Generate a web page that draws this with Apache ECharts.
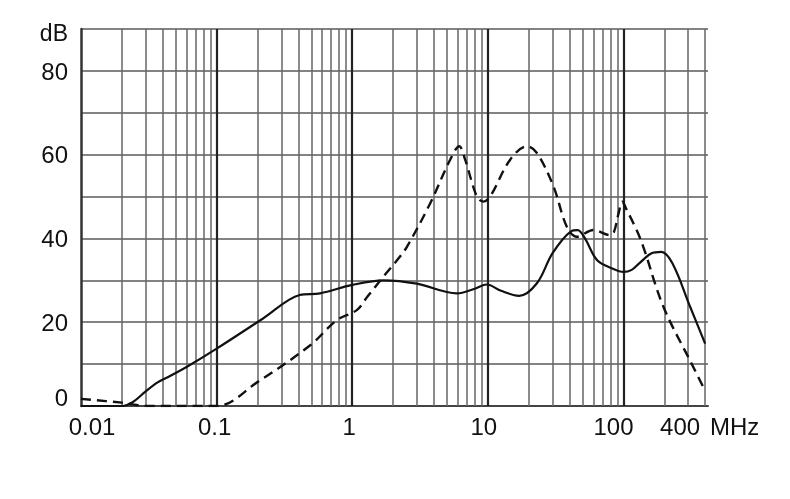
<!DOCTYPE html>
<html>
<head>
<meta charset="utf-8">
<script src="https://cdn.jsdelivr.net/npm/echarts@6/dist/echarts.min.js"></script>
<style>
html,body{margin:0;padding:0;background:#fff;}
#chart{width:790px;height:499px;}
</style>
</head>
<body>
<div id="chart"></div>
<script>
// Data (frequency in MHz, level in dB)
const solidFreq = [0.01, 0.02, 0.024, 0.03, 0.037, 0.045, 0.06, 0.1, 0.22, 0.41, 0.58, 1.0, 1.7, 3, 5.9, 8, 9.8, 12.5, 17, 23, 30, 41, 46, 52, 64, 83, 100, 115, 130, 160, 190, 230, 310, 400];
const solidDb   = [0, 0, 0.9, 3.5, 5.7, 7.1, 9.3, 13.7, 20.9, 26.5, 26.9, 28.9, 30, 29.2, 26.9, 28, 29, 27.5, 26.3, 29.3, 36.5, 41.7, 42, 40, 34.8, 32.8, 32, 32.5, 34, 36.4, 36.8, 34, 23.7, 14.9];
const dashFreq  = [0.01, 0.02, 0.024, 0.03, 0.1, 0.2, 0.49, 0.77, 1.08, 1.3, 1.7, 2.19, 2.53, 3.76, 5.27, 6.15, 6.8, 8.3, 9.3, 10.4, 14.6, 19.4, 23, 30.5, 38.2, 45.3, 60, 79.6, 85, 92, 98, 105, 125, 140, 197, 318, 388];
const dashDb    = [1.7, 0.8, 0.4, 0, 0, 5.7, 14.5, 20.5, 22.9, 26.2, 30.9, 35.2, 38, 48.4, 58.8, 62, 58.8, 50, 48.8, 50, 58.8, 62, 60.4, 52.4, 42.8, 40.4, 42, 40.8, 41.5, 46, 48.8, 47, 42, 38, 23.7, 10.1, 4.5];

// Axis ticks / labels
const xLabelValues = [0.01, 0.1, 1, 10, 100, 400];
const xLabelTexts  = ['0.01', '0.1', '1', '10', '100', '400'];
const xUnit = 'MHz';
const yLabelValues = [0, 20, 40, 60, 80];
const yUnit = 'dB';
const decadeLines = [0.1, 1, 10, 100];
const minorLines = [0.02,0.03,0.04,0.05,0.06,0.07,0.08,0.09, 0.2,0.3,0.4,0.5,0.6,0.7,0.8,0.9, 2,3,4,5,6,7,8,9, 20,30,40,50,60,70,80,90, 200,300,400];

const FONT = 'Liberation Sans, Arial, sans-serif';
const xLabelPad = {'0.01':[0,0,0,22], '0.1':[0,4,0,0], '1':[0,6,0,0], '10':[0,8,0,0], '100':[0,20,0,0], '400':[0,50,0,0]};

const rich = {};
xLabelTexts.forEach((t, i) => {
  rich['x' + i] = {fontSize: 24, fontFamily: FONT, color: '#111', padding: xLabelPad[t]};
});

const chart = echarts.init(document.getElementById('chart'), null, {renderer: 'canvas'});
chart.setOption({
  animation: false,
  backgroundColor: '#fff',
  grid: {left: 81, right: 82, top: 29, bottom: 93, containLabel: false, outerBoundsMode: 'none'},
  xAxis: {
    type: 'log', logBase: 10, min: 0.01, max: 420,
    name: '{m|' + xUnit + '}', nameLocation: 'end', nameGap: 2,
    nameTextStyle: {
      align: 'left', verticalAlign: 'middle',
      rich: {m: {fontSize: 24, fontFamily: FONT, color: '#111', padding: [44, 0, 0, 0]}}
    },
    axisLine: {show: true, onZero: false, lineStyle: {color: '#444', width: 2}},
    axisTick: {show: false},
    splitLine: {show: false},
    axisLabel: {
      customValues: xLabelValues,
      showMinLabel: true, showMaxLabel: true, hideOverlap: false,
      margin: 10,
      formatter: function (v) {
        let idx = -1;
        xLabelValues.forEach((x, i) => { if (Math.abs(Math.log10(x) - Math.log10(v)) < 1e-6) idx = i; });
        return idx < 0 ? '' : '{x' + idx + '|' + xLabelTexts[idx] + '}';
      },
      rich: rich
    }
  },
  yAxis: {
    type: 'value', min: 0, max: 90, interval: 10,
    axisLine: {show: true, lineStyle: {color: '#333', width: 2.5}},
    axisTick: {show: false},
    splitLine: {show: true, lineStyle: {color: '#5a5a5a', width: 1.5}},
    axisLabel: {
      margin: 13, showMinLabel: true, showMaxLabel: true, hideOverlap: false,
      formatter: function (v) {
        if (v === 90) return '{u|' + yUnit + '}';
        if (v === 0) return '{z|0}';
        return yLabelValues.indexOf(v) >= 0 ? '{n|' + v + '}' : '';
      },
      rich: {
        n: {fontSize: 24, fontFamily: FONT, color: '#111', padding: [4, 0, 0, 0]},
        z: {fontSize: 24, fontFamily: FONT, color: '#111', padding: [0, 0, 14, 0]},
        u: {fontSize: 23, fontFamily: FONT, color: '#111', padding: [12, 0, 0, 0]}
      }
    }
  },
  series: [
    {
      type: 'line', data: [], z: 1, silent: true,
      markLine: {
        silent: true, symbol: ['none', 'none'], animation: false,
        label: {show: false},
        lineStyle: {color: '#666', width: 1.5, type: 'solid'},
        data: minorLines.map(v => ({xAxis: v}))
      }
    },
    {
      type: 'line', data: [], z: 1, silent: true,
      markLine: {
        silent: true, symbol: ['none', 'none'], animation: false,
        label: {show: false},
        lineStyle: {color: '#222', width: 2.2, type: 'solid'},
        data: decadeLines.map(v => ({xAxis: v}))
      }
    },
    {
      name: 'solid', type: 'line', z: 5,
      data: solidFreq.map((f, i) => [f, solidDb[i]]),
      showSymbol: false, smooth: 0.35,
      lineStyle: {color: '#111', width: 2.2}
    },
    {
      name: 'dashed', type: 'line', z: 5,
      data: dashFreq.map((f, i) => [f, dashDb[i]]),
      showSymbol: false, smooth: 0.35,
      lineStyle: {color: '#111', width: 2.4, type: [10, 6]}
    }
  ]
});
</script>
</body>
</html>
